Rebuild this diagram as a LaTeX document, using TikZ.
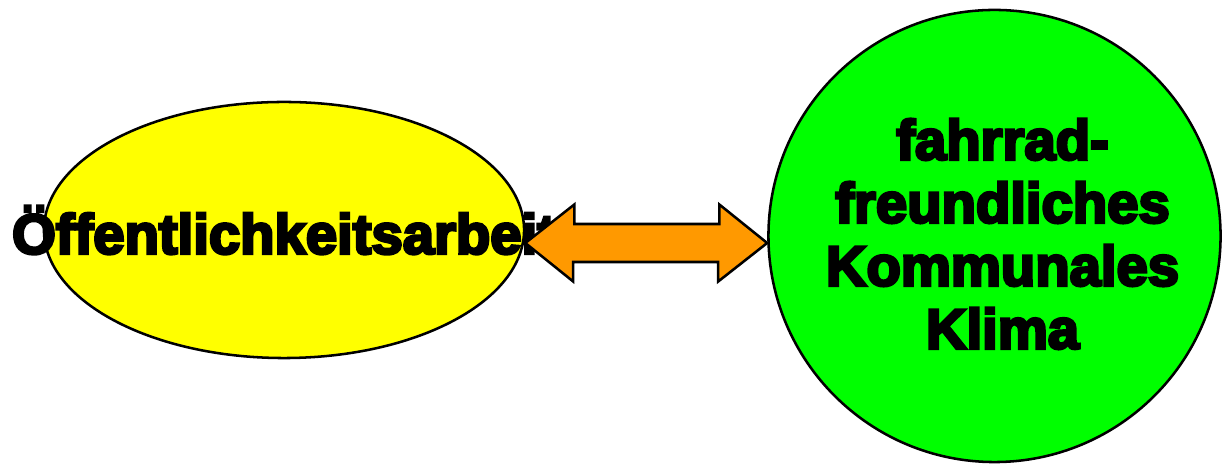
\documentclass[tikz,border=0pt]{standalone}
\usepackage{fontspec}
\newfontfamily\heavyfont{Liberation Sans}[BoldFeatures={FakeBold=5}]
\usetikzlibrary{shapes.geometric,calc}
\definecolor{sunyellow}{HTML}{FFFF00}
\definecolor{brightgreen}{HTML}{00FF00}
\definecolor{arroworange}{HTML}{FF9900}
\tikzset{
  bigtext/.style={font=\heavyfont\bfseries\fontsize{40}{44.8}\selectfont, align=center, inner sep=0pt},
  dblarrow/.style={draw=black, fill=arroworange, line width=1.8pt, line join=miter}
}
\begin{document}
\begin{tikzpicture}[x=0.025cm, y=0.025cm]
\useasboundingbox (0,0) rectangle (1222,464);
\node[shape=ellipse, draw=black, fill=sunyellow, line width=1.8pt, minimum width=12cm, minimum height=6.4cm, inner sep=0pt] (oe) at (284,234) {};
\node[shape=circle, draw=black, fill=brightgreen, line width=1.8pt, minimum size=11.3cm, inner sep=0pt] (kk) at (994.5,228) {};
\node[bigtext] (oetext) at (oe.center) {Öffentlichkeitsarbeit};
\node[bigtext] (kktext) at ([xshift=0.2cm, yshift=0.05cm]kk.center) {fahrrad-\\freundliches\\Kommunales\\Klima};
\draw[dblarrow] ([yshift=-0.325cm]oe.east) -- ++(49,38.5) -- ++(0,-19.5) -- ++(145,0) -- ++(0,19.5)
  -- ([yshift=-0.175cm]kk.west) -- ++(-49,-38.5) -- ++(0,19.5) -- ++(-145,0) -- ++(0,-19.5) -- cycle;
\end{tikzpicture}
\end{document}
